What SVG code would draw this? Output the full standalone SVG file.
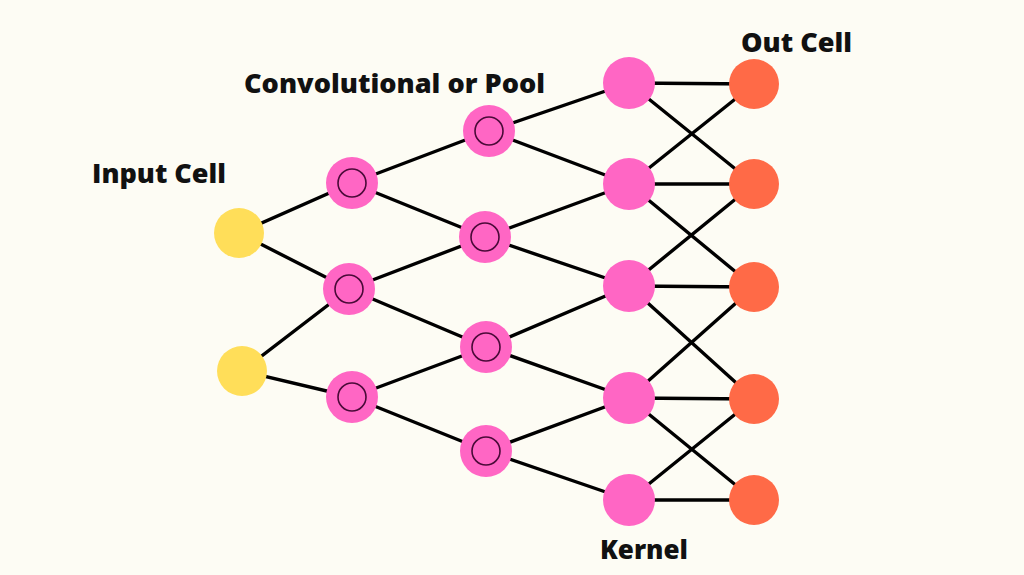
<svg xmlns="http://www.w3.org/2000/svg" width="1024" height="575" viewBox="0 0 1024 575">
<style>
.bg{fill:#FDFCF4}
.e{stroke:#000;stroke-width:3.4;stroke-linecap:round}
.in{fill:#FFDE59}
.pk{fill:#FF66C4}
.out{fill:#FF6A47}
.ring{fill:none;stroke:#4A0A38;stroke-width:1.6}
.lbl{font-family:"Open Sans","Liberation Sans",sans-serif;font-weight:800;font-size:26px;fill:#111}
</style>
<rect class="bg" x="0" y="0" width="1024" height="575"/>
<g id="connectors">
<line class="e" x1="239" y1="233" x2="352" y2="183"/>
<line class="e" x1="239" y1="233" x2="349" y2="289"/>
<line class="e" x1="242" y1="371" x2="349" y2="289"/>
<line class="e" x1="242" y1="371" x2="352" y2="397"/>
<line class="e" x1="352" y1="183" x2="489" y2="131"/>
<line class="e" x1="352" y1="183" x2="485" y2="237"/>
<line class="e" x1="349" y1="289" x2="485" y2="237"/>
<line class="e" x1="349" y1="289" x2="486" y2="347"/>
<line class="e" x1="352" y1="397" x2="486" y2="347"/>
<line class="e" x1="352" y1="397" x2="486" y2="451"/>
<line class="e" x1="489" y1="131" x2="629" y2="83"/>
<line class="e" x1="489" y1="131" x2="629" y2="184"/>
<line class="e" x1="485" y1="237" x2="629" y2="184"/>
<line class="e" x1="485" y1="237" x2="629" y2="286"/>
<line class="e" x1="486" y1="347" x2="629" y2="286"/>
<line class="e" x1="486" y1="347" x2="629" y2="398"/>
<line class="e" x1="486" y1="451" x2="629" y2="398"/>
<line class="e" x1="486" y1="451" x2="629" y2="500"/>
<line class="e" x1="629" y1="83" x2="754" y2="84"/>
<line class="e" x1="629" y1="83" x2="754" y2="184"/>
<line class="e" x1="629" y1="184" x2="754" y2="84"/>
<line class="e" x1="629" y1="184" x2="754" y2="184"/>
<line class="e" x1="629" y1="184" x2="754" y2="287"/>
<line class="e" x1="629" y1="286" x2="754" y2="184"/>
<line class="e" x1="629" y1="286" x2="754" y2="287"/>
<line class="e" x1="629" y1="286" x2="754" y2="399"/>
<line class="e" x1="629" y1="398" x2="754" y2="287"/>
<line class="e" x1="629" y1="398" x2="754" y2="399"/>
<line class="e" x1="629" y1="398" x2="754" y2="500"/>
<line class="e" x1="629" y1="500" x2="754" y2="399"/>
<line class="e" x1="629" y1="500" x2="754" y2="500"/>
</g>
<g id="input1"><circle class="in" cx="239" cy="233" r="25"/></g>
<g id="input2"><circle class="in" cx="242" cy="371" r="25"/></g>
<g id="conv1a"><circle class="pk" cx="352" cy="183" r="26"/><circle class="ring" cx="352" cy="183" r="14"/></g>
<g id="conv1b"><circle class="pk" cx="349" cy="289" r="26"/><circle class="ring" cx="349" cy="289" r="14"/></g>
<g id="conv1c"><circle class="pk" cx="352" cy="397" r="26"/><circle class="ring" cx="352" cy="397" r="14"/></g>
<g id="conv2a"><circle class="pk" cx="489" cy="131" r="26"/><circle class="ring" cx="489" cy="131" r="14"/></g>
<g id="conv2b"><circle class="pk" cx="485" cy="237" r="26"/><circle class="ring" cx="485" cy="237" r="14"/></g>
<g id="conv2c"><circle class="pk" cx="486" cy="347" r="26"/><circle class="ring" cx="486" cy="347" r="14"/></g>
<g id="conv2d"><circle class="pk" cx="486" cy="451" r="26"/><circle class="ring" cx="486" cy="451" r="14"/></g>
<g id="kernel1"><circle class="pk" cx="629" cy="83" r="26"/></g>
<g id="kernel2"><circle class="pk" cx="629" cy="184" r="26"/></g>
<g id="kernel3"><circle class="pk" cx="629" cy="286" r="26"/></g>
<g id="kernel4"><circle class="pk" cx="629" cy="398" r="26"/></g>
<g id="kernel5"><circle class="pk" cx="629" cy="500" r="26"/></g>
<g id="out1"><circle class="out" cx="754" cy="84" r="25"/></g>
<g id="out2"><circle class="out" cx="754" cy="184" r="25"/></g>
<g id="out3"><circle class="out" cx="754" cy="287" r="25"/></g>
<g id="out4"><circle class="out" cx="754" cy="399" r="25"/></g>
<g id="out5"><circle class="out" cx="754" cy="500" r="25"/></g>
<g id="labels">
<text class="lbl" x="92" y="183" textLength="134" lengthAdjust="spacingAndGlyphs">Input Cell</text>
<text class="lbl" x="244" y="93" textLength="301" lengthAdjust="spacingAndGlyphs">Convolutional or Pool</text>
<text class="lbl" x="741" y="52" textLength="111" lengthAdjust="spacingAndGlyphs">Out Cell</text>
<text class="lbl" x="600" y="559" textLength="88" lengthAdjust="spacingAndGlyphs">Kernel</text>
</g>
</svg>
